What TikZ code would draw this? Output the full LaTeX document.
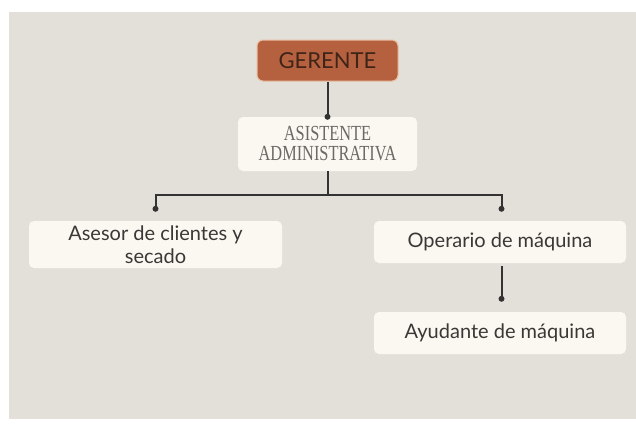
\documentclass[tikz,border=0pt]{standalone}
\usepackage{fontspec}
\setmainfont{Lato}
\newfontfamily\serifcond[FakeStretch=0.76]{Liberation Serif}
\usetikzlibrary{calc}
\definecolor{bgc}{HTML}{E3E0D9}
\definecolor{boxc}{HTML}{FBF8F1}
\definecolor{terra}{HTML}{B5613F}
\definecolor{terraedge}{HTML}{E9BFA2}
\definecolor{ink}{HTML}{3A3836}
\definecolor{topink}{HTML}{3F2418}
\definecolor{greyink}{HTML}{6B6966}
\definecolor{linec}{HTML}{333333}
\tikzset{
  card/.style={rectangle, rounded corners=5pt, fill=boxc, draw=none, align=center, text=ink,
    font=\fontsize{20}{23}\selectfont, inner sep=0pt},
  topcard/.style={rectangle, rounded corners=6pt, fill=terra, draw=terraedge, line width=1pt,
    text=topink, font=\fontsize{22}{26}\selectfont, inner sep=0pt},
  asiscard/.style={rectangle, rounded corners=5pt, fill=boxc, draw=none, align=center, text=greyink,
    font=\serifcond\fontsize{21.5}{20}\selectfont, inner sep=0pt},
  conn/.style={draw=linec, line width=2pt},
  pin/.style={circle, fill=linec, inner sep=0pt, minimum size=6pt}
}
\begin{document}
\begin{tikzpicture}[x=1pt,y=-1pt]
\fill[white] (0,0) rectangle (636,423);
\fill[bgc] (9,12) rectangle (636,419);
\useasboundingbox (0,0) rectangle (636,423);

\node[topcard, minimum width=141pt, minimum height=41pt] (g) at (327.5,60.5) {GERENTE};
\node[asiscard, minimum width=179pt, minimum height=54pt] (a) at (327.5,144) {ASISTENTE\\ADMINISTRATIVA};
\node[card, minimum width=253pt, minimum height=47pt] (s) at (155.5,244.5) {Asesor de clientes y\\secado};
\node[card, minimum width=252pt, minimum height=42pt] (o) at (500,242) {Operario de máquina};
\node[card, minimum width=252pt, minimum height=42pt] (y) at (500,333) {Ayudante de máquina};

\coordinate (bus) at ($(a.south)+(0,24)$);
\coordinate (sd) at ($(s.north)+(0,-12)$);
\coordinate (od) at ($(o.north)+(1.5,-12)$);
\coordinate (yd) at ($(y.north)+(1.5,-13)$);
\coordinate (os) at ($(o.south)+(1.5,3)$);

\draw[conn] (g.south) -- (a.north);
\node[pin] at (a.north) {};
\draw[conn] (a.south) -- (bus);
\draw[conn] (sd) |- (bus) -| (od);
\node[pin] at (sd) {};
\node[pin] at (od) {};
\draw[conn] (os) -- (yd);
\node[pin] at (yd) {};
\end{tikzpicture}
\end{document}
